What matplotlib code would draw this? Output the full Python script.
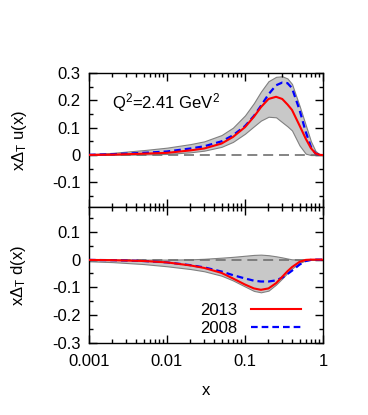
import numpy as np
import matplotlib
matplotlib.use('Agg')
import matplotlib.pyplot as plt
from matplotlib.ticker import MultipleLocator, LogLocator, NullFormatter, FixedLocator

plt.rcParams['font.family'] = ['Liberation Sans', 'DejaVu Sans']
plt.rcParams['mathtext.fontset'] = 'custom'
plt.rcParams['mathtext.rm'] = 'Liberation Sans'
plt.rcParams['mathtext.it'] = 'Liberation Sans:italic'
plt.rcParams['font.size'] = 12

x = [0.001, 0.002, 0.005, 0.01, 0.02, 0.03, 0.05, 0.07, 0.1, 0.13, 0.16,
     0.2, 0.25, 0.3, 0.35, 0.4, 0.5, 0.6, 0.7, 0.8, 0.9, 1.0]

# x*Delta_T u
u_2013 = [0.0005, 0.0015, 0.005, 0.008, 0.017, 0.024, 0.042, 0.066, 0.102, 0.14, 0.175,
          0.205, 0.213, 0.205, 0.185, 0.165, 0.108, 0.06, 0.025, 0.006, 0.001, 0.0]
u_2008 = [0.001, 0.003, 0.008, 0.013, 0.024, 0.032, 0.05, 0.072, 0.106, 0.143, 0.18,
          0.222, 0.255, 0.265, 0.263, 0.245, 0.165, 0.085, 0.03, 0.006, 0.001, 0.0]
u_hi = [0.003, 0.008, 0.018, 0.027, 0.04, 0.05, 0.073, 0.1, 0.145, 0.19, 0.232,
        0.27, 0.286, 0.288, 0.28, 0.26, 0.18, 0.11, 0.05, 0.015, 0.003, 0.0]
u_lo = [0.0, 0.001, 0.002, 0.004, 0.01, 0.016, 0.03, 0.048, 0.078, 0.105, 0.126,
        0.14, 0.138, 0.12, 0.105, 0.09, 0.035, 0.005, 0.0, 0.0, 0.0, 0.0]

# x*Delta_T d
d_2013 = [-0.001, -0.002, -0.005, -0.01, -0.021, -0.03, -0.048, -0.068, -0.09, -0.104, -0.109,
          -0.104, -0.085, -0.062, -0.042, -0.027, -0.008, -0.001, 0.0, 0.0, 0.0, 0.0]
d_2008 = [-0.001, -0.002, -0.005, -0.01, -0.02, -0.028, -0.043, -0.056, -0.068, -0.076, -0.079,
          -0.079, -0.075, -0.065, -0.052, -0.04, -0.018, -0.005, -0.001, 0.0, 0.0, 0.0]
d_hi = [0.0, 0.0, 0.0, 0.0, 0.001, 0.003, 0.007, 0.01, 0.014, 0.017, 0.018,
        0.016, 0.012, 0.008, 0.004, 0.001, 0.0, 0.0, 0.0, 0.0, 0.0, 0.0]
d_lo = [-0.006, -0.009, -0.016, -0.024, -0.034, -0.042, -0.058, -0.075, -0.097, -0.113, -0.118,
        -0.112, -0.09, -0.068, -0.048, -0.032, -0.012, -0.003, -0.001, 0.0, 0.0, 0.0]

fig = plt.figure(figsize=(3.68, 4.15), dpi=100)
ax1 = fig.add_axes([0.2418, 0.5012, 0.636, 0.3229])
ax2 = fig.add_axes([0.2418, 0.1742, 0.636, 0.3270])


def panel(ax, lo, hi, y13, y08, ylim, ylab):
    ax.fill_between(x, lo, hi, facecolor='#c8c8c8', edgecolor='#808080', lw=0.8, zorder=1)
    ax.axhline(0, color='#707070', lw=1.2, dashes=(6, 3.5), zorder=2)
    ax.plot(x, y13, color='red', lw=1.5, zorder=4, label='2013')
    ax.plot(x, y08, color='blue', lw=1.6, dashes=(3, 1.8), zorder=3, label='2008')
    ax.set_xscale('log')
    ax.set_xlim(0.001, 1)
    ax.set_ylim(*ylim)
    ax.set_ylabel(ylab, labelpad=17)
    ax.yaxis.set_major_locator(FixedLocator([-0.3, -0.2, -0.1, 0, 0.1, 0.2, 0.3]))
    ax.yaxis.set_minor_locator(MultipleLocator(0.05))
    ax.xaxis.set_major_locator(LogLocator(base=10, numticks=10))
    ax.xaxis.set_minor_locator(LogLocator(base=10, subs=np.arange(2, 10), numticks=10))
    ax.tick_params(which='both', direction='in', top=True, right=True, width=1)
    ax.tick_params(which='major', length=5.5)
    ax.tick_params(which='minor', length=3)
    ax.tick_params(axis='y', pad=6)
    ax.tick_params(axis='x', pad=8)
    for s in ax.spines.values():
        s.set_linewidth(1)


panel(ax1, u_lo, u_hi, u_2013, u_2008, (-0.19, 0.3), r'x$\Delta_\mathrm{T}$ u(x)')
panel(ax2, d_lo, d_hi, d_2013, d_2008, (-0.3, 0.19), r'x$\Delta_\mathrm{T}$ d(x)')

ax1.set_yticklabels(['', '', '-0.1', '0', '0.1', '0.2', '0.3'])
ax2.set_yticklabels(['-0.3', '-0.2', '-0.1', '0', '0.1', '', ''])
ax1.xaxis.set_major_formatter(NullFormatter())
ax2.set_xticks([0.001, 0.01, 0.1, 1])
ax2.set_xticklabels(['0.001', '0.01', '0.1', '1'])
ax2.set_xlim(0.001, 1)
ax2.set_xlabel('x', labelpad=10)

ax1.text(0.098, 0.776, r'Q$^2$=2.41 GeV$^2$', transform=ax1.transAxes, va='center', ha='left')

ax2.legend(loc='lower right', bbox_to_anchor=(0.94, -0.01), markerfirst=False,
           handlelength=3.0, handletextpad=0.8, labelspacing=0.15, borderpad=0,
           frameon=False, fontsize=12)

fig.savefig('out.png', dpi=100)
